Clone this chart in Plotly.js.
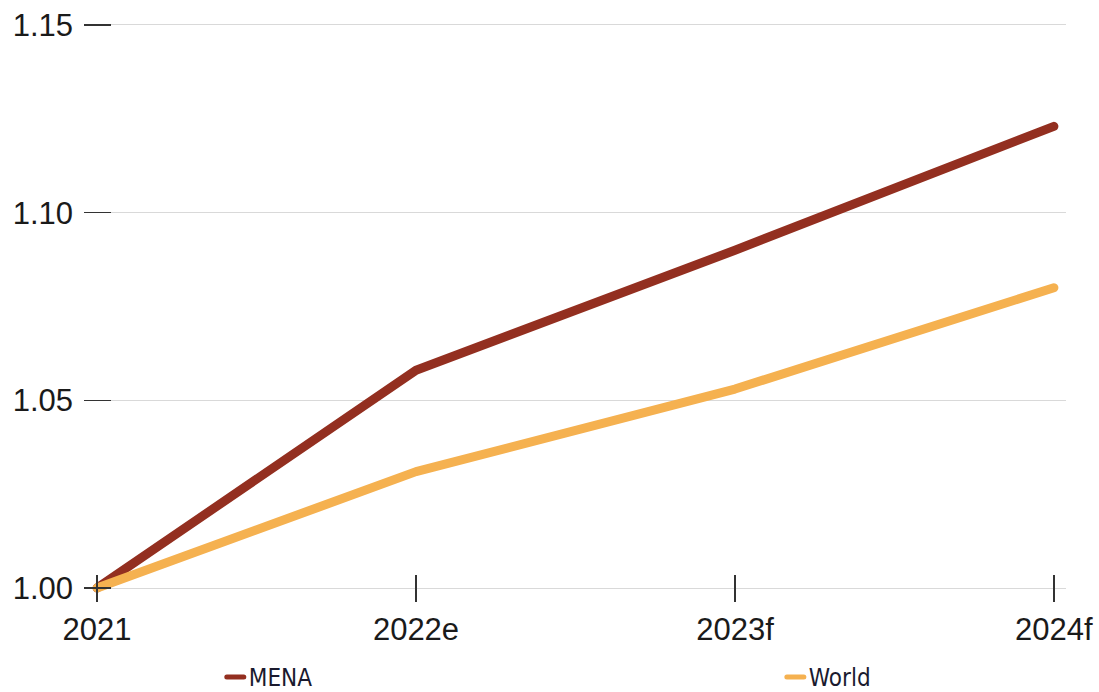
<!DOCTYPE html>
<html>
<head>
<meta charset="utf-8">
<script src="https://cdn.plot.ly/plotly-3.0.1.min.js"></script>
<style>
  html, body { margin: 0; padding: 0; background: #ffffff; }
  #chart { width: 1099px; height: 692px; }
</style>
</head>
<body>
<div id="chart"></div>
<script>
// Index level (2021 = 1.00)
const years = ['2021', '2022e', '2023f', '2024f'];
const menaValues = [1.000, 1.058, 1.090, 1.123];
const worldValues = [1.000, 1.031, 1.053, 1.080];
const yTickValues = [1.00, 1.05, 1.10, 1.15];
const yTickLabels = ['1.00', '1.05', '1.10', '1.15'];

const MENA_COLOR = '#932f20';
const WORLD_COLOR = '#f5b150';

const traces = [
  {
    x: years, y: menaValues, name: 'MENA', type: 'scatter', mode: 'lines',
    line: { color: MENA_COLOR, width: 9 }, legend: 'legend'
  },
  {
    x: years, y: worldValues, name: 'World', type: 'scatter', mode: 'lines',
    line: { color: WORLD_COLOR, width: 9 }, legend: 'legend2'
  }
];

const legendFont = { family: '"Liberation Sans Narrow", "DejaVu Sans Condensed", sans-serif', size: 24, color: '#1a1a2e' };
const legendBase = {
  orientation: 'h',
  xref: 'container', yref: 'container',
  y: 0.021, xanchor: 'left', yanchor: 'middle',
  font: legendFont,
  bgcolor: 'rgba(0,0,0,0)'
};

const layout = {
  width: 1099,
  height: 692,
  margin: { l: 84, r: 33, t: 20, b: 90 },
  paper_bgcolor: '#ffffff',
  plot_bgcolor: '#ffffff',
  font: { family: '"Liberation Sans", Arial, sans-serif', color: '#1a1a1a', size: 31 },
  showlegend: true,
  legend: Object.assign({}, legendBase, { x: 0.19 }),
  legend2: Object.assign({}, legendBase, { x: 0.6996 }),
  xaxis: {
    type: 'category',
    range: [-0.041, 3.038],
    showgrid: false,
    zeroline: false,
    showline: false,
    ticks: 'inside',
    ticklen: 27,
    tickwidth: 1.5,
    tickcolor: '#333333',
    ticklabelstandoff: 6,
    tickfont: { size: 31, color: '#1a1a1a' }
  },
  yaxis: {
    range: [0.99627, 1.15133],
    tickvals: yTickValues,
    ticktext: yTickLabels,
    showgrid: true,
    gridcolor: '#d9d9d9',
    gridwidth: 1,
    zeroline: false,
    showline: false,
    ticks: 'inside',
    ticklen: 27,
    tickwidth: 1.5,
    tickcolor: '#333333',
    ticklabelstandoff: 10,
    tickfont: { size: 31, color: '#1a1a1a' }
  }
};

Plotly.newPlot('chart', traces, layout, { displayModeBar: false, staticPlot: true }).then(function (gd) {
  // Rounded line ends on the data lines
  gd.querySelectorAll('.scatterlayer .js-line').forEach(function (p) {
    p.style.strokeLinecap = 'round';
    p.style.strokeLinejoin = 'round';
  });
  // Short, thinner legend samples placed just before the labels
  gd.querySelectorAll('.legendlines path').forEach(function (p) {
    p.setAttribute('d', 'M18,0h17');
    p.style.strokeWidth = '5px';
    p.style.strokeLinecap = 'round';
  });
});
</script>
</body>
</html>
